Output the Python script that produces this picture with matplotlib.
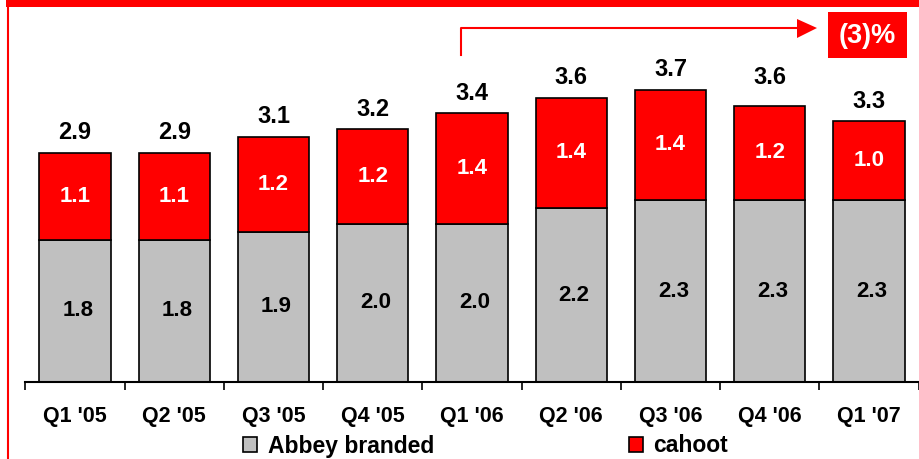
import matplotlib
matplotlib.use("Agg")
import matplotlib.pyplot as plt
from matplotlib.patches import Rectangle, Polygon
from matplotlib.lines import Line2D
import numpy as np

quarters = ["Q1 '05", "Q2 '05", "Q3 '05", "Q4 '05", "Q1 '06",
            "Q2 '06", "Q3 '06", "Q4 '06", "Q1 '07"]
abbey = [1.8, 1.8, 1.9, 2.0, 2.0, 2.2, 2.3, 2.3, 2.3]
cahoot = [1.1, 1.1, 1.2, 1.2, 1.4, 1.4, 1.4, 1.2, 1.0]
totals = [2.9, 2.9, 3.1, 3.2, 3.4, 3.6, 3.7, 3.6, 3.3]
change_label = "(3)%"

RED = "#FF0000"
GREY = "#C0C0C0"
W, H = 920, 459

plt.rcParams['font.family'] = ['Liberation Sans', 'DejaVu Sans']
plt.rcParams['font.weight'] = 'bold'

fig = plt.figure(figsize=(W / 100, H / 100), dpi=100)


def fx(px):
    return px / W


def fy(py):
    return 1 - py / H


# plot area in pixels: left 25, right 918, baseline 382, top 6
ax = fig.add_axes([fx(25.4), fy(382), fx(918.6) - fx(25.4), fy(6) - fy(382)])
x = np.arange(len(quarters))
bw = 0.72
ax.bar(x, abbey, bw, color=GREY, edgecolor="black", linewidth=1.2,
       label="Abbey branded", zorder=2)
ax.bar(x, cahoot, bw, bottom=abbey, color=RED, edgecolor="black",
       linewidth=1.2, label="cahoot", zorder=2)

for i in range(len(quarters)):
    ax.text(x[i] + 0.03, abbey[i] / 2, f"{abbey[i]:.1f}", ha="center",
            va="center", fontsize=16, fontweight="bold", color="black")
    ax.text(x[i], abbey[i] + cahoot[i] / 2, f"{cahoot[i]:.1f}", ha="center",
            va="center", fontsize=16, fontweight="bold", color="white")
    ax.text(x[i], totals[i] + 0.11, f"{totals[i]:.1f}", ha="center",
            va="bottom", fontsize=17, fontweight="bold", color="black")

ax.set_xlim(-0.5, len(quarters) - 0.5)
ax.set_ylim(0, 376 / 79)
ax.set_xticks(x)
ax.set_xticklabels(quarters, fontsize=15.5, fontweight="bold")
ax.tick_params(axis="x", which="major", length=0, pad=17)
ax.set_xticks(np.arange(-0.5, len(quarters), 1), minor=True)
ax.tick_params(axis="x", which="minor", length=6, width=1.2, color="black")
ax.set_yticks([])
for s in ["left", "right", "top"]:
    ax.spines[s].set_visible(False)
ax.spines["bottom"].set_linewidth(1.5)

leg = fig.legend(loc="center left", bbox_to_anchor=(fx(243), fy(446)), ncol=2,
                 frameon=False, prop={"size": 16.5, "weight": "bold"},
                 handlelength=0.62, handleheight=0.62, handletextpad=0.45,
                 columnspacing=8.5, borderaxespad=0, borderpad=0)

# red frame: thick top band and thin left line
fig.add_artist(Rectangle((fx(6), fy(6.5)), 1 - fx(6), fy(0) - fy(6.5),
                         transform=fig.transFigure, color=RED, lw=0))
fig.add_artist(Line2D([fx(8), fx(8)], [0, 1], transform=fig.transFigure,
                      color=RED, lw=1.5))

# growth arrow
fig.add_artist(Line2D([fx(461), fx(461), fx(798)], [fy(55), fy(28), fy(28)],
                      transform=fig.transFigure, color=RED, lw=1.5))
fig.add_artist(Polygon([[fx(797), fy(19)], [fx(817), fy(28)], [fx(797), fy(38)]],
                       closed=True, transform=fig.transFigure, color=RED, lw=0))
fig.add_artist(Rectangle((fx(828), fy(58)), fx(907) - fx(828), fy(12) - fy(58),
                         transform=fig.transFigure, color=RED, lw=0))
fig.text(fx(867.5), fy(36), change_label, ha="center", va="center",
         fontsize=19.5, fontweight="bold", color="white")

fig.savefig("out.png", dpi=100)
